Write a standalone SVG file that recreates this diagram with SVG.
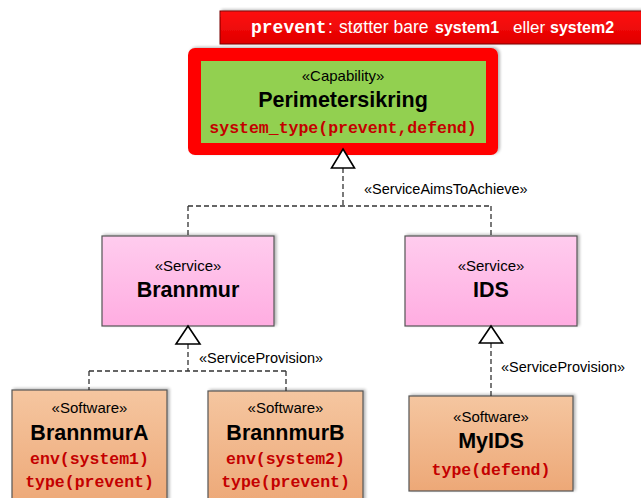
<svg xmlns="http://www.w3.org/2000/svg" width="641" height="498" viewBox="0 0 641 498">
  <defs>
    <linearGradient id="gBanner" x1="0" y1="0" x2="0" y2="1">
      <stop offset="0" stop-color="#FF1010"/>
      <stop offset="1" stop-color="#E00000"/>
    </linearGradient>
    <linearGradient id="gService" x1="0" y1="0" x2="0" y2="1">
      <stop offset="0" stop-color="#FFCCEE"/>
      <stop offset="1" stop-color="#FFADE1"/>
    </linearGradient>
    <linearGradient id="gSoftware" x1="0" y1="0" x2="0" y2="1">
      <stop offset="0" stop-color="#F5C6A0"/>
      <stop offset="1" stop-color="#EDA877"/>
    </linearGradient>
    <filter id="shadow" x="-10%" y="-10%" width="120%" height="130%">
      <feGaussianBlur in="SourceAlpha" stdDeviation="1.5"/>
      <feOffset dx="2" dy="-1" result="b"/>
      <feComponentTransfer><feFuncA type="linear" slope="0.3"/></feComponentTransfer>
      <feMerge><feMergeNode/><feMergeNode in="SourceGraphic"/></feMerge>
    </filter>
  </defs>
  <style>
    .box { stroke: #555555; stroke-width: 1.2; }
    .stereo { font-family: "Liberation Sans", Arial, sans-serif; font-size: 15px; fill: #000; text-anchor: middle; }
    .name { font-family: "Liberation Sans", Arial, sans-serif; font-size: 21.5px; font-weight: bold; fill: #000; text-anchor: middle; }
    .code { font-family: "Liberation Mono", "Courier New", monospace; font-size: 16.5px; font-weight: bold; fill: #C40000; text-anchor: middle; }
    .lbl { font-family: "Liberation Sans", Arial, sans-serif; font-size: 14.5px; fill: #000; }
    .dash { fill: none; stroke: #333333; stroke-width: 1.3; stroke-dasharray: 5 3; }
    .head { fill: #FFFFFF; stroke: #000000; stroke-width: 1.6; stroke-linejoin: miter; }
    .banner { font-family: "Liberation Sans", Arial, sans-serif; font-size: 17.5px; fill: #FFFFFF; }
    .banner .b { font-size: 16px; font-weight: bold; }
  </style>

  <!-- note banner -->
  <g id="note">
    <rect x="220" y="11" width="430" height="33" fill="url(#gBanner)" stroke="#7A0000" stroke-width="1" filter="url(#shadow)"/>
    <text class="banner" y="33">
      <tspan x="251" font-family="'Liberation Mono', 'Courier New', monospace" font-weight="bold" font-size="18px">prevent</tspan><tspan x="328">:</tspan><tspan x="339">støtter bare</tspan><tspan class="b" x="435">system1</tspan><tspan x="513" font-size="17px">eller</tspan><tspan class="b" x="550">system2</tspan>
    </text>
  </g>

  <!-- capability -->
  <g id="perimetersikring">
    <rect x="188" y="48" width="310" height="107" rx="7" fill="#FF0000" filter="url(#shadow)"/>
    <rect x="201" y="61" width="285" height="82" fill="#92D050"/>
    <text class="stereo" x="343" y="81">«Capability»</text>
    <text class="name" x="343" y="107">Perimetersikring</text>
    <text class="code" x="343" y="133">system_type(prevent,defend)</text>
  </g>

  <!-- services -->
  <g id="brannmur">
    <rect class="box" x="102" y="236" width="172" height="90" fill="url(#gService)" filter="url(#shadow)"/>
    <text class="stereo" x="188" y="271">«Service»</text>
    <text class="name" x="188" y="297">Brannmur</text>
  </g>
  <g id="ids">
    <rect class="box" x="405" y="236" width="172" height="90" fill="url(#gService)" filter="url(#shadow)"/>
    <text class="stereo" x="491" y="271">«Service»</text>
    <text class="name" x="491" y="297">IDS</text>
  </g>

  <!-- software -->
  <g id="brannmurA">
    <rect class="box" x="12" y="390" width="155" height="115" fill="url(#gSoftware)" filter="url(#shadow)"/>
    <text class="stereo" x="89.5" y="413">«Software»</text>
    <text class="name" x="89.5" y="440">BrannmurA</text>
    <text class="code" x="89.5" y="464">env(system1)</text>
    <text class="code" x="89.5" y="487">type(prevent)</text>
  </g>
  <g id="brannmurB">
    <rect class="box" x="208" y="391" width="155" height="115" fill="url(#gSoftware)" filter="url(#shadow)"/>
    <text class="stereo" x="285.5" y="413">«Software»</text>
    <text class="name" x="285.5" y="440">BrannmurB</text>
    <text class="code" x="285.5" y="464">env(system2)</text>
    <text class="code" x="285.5" y="487">type(prevent)</text>
  </g>
  <g id="myids">
    <rect class="box" x="409" y="396" width="164" height="95" fill="url(#gSoftware)" filter="url(#shadow)"/>
    <text class="stereo" x="491" y="422">«Software»</text>
    <text class="name" x="491" y="448">MyIDS</text>
    <text class="code" x="491" y="475">type(defend)</text>
  </g>

  <!-- connectors -->
  <g id="connectors">
    <path class="dash" d="M343,168 V206 M188,206 H491 M188,206 V236 M491,206 V236"/>
    <polygon class="head" points="343,149 354.5,168 331.5,168"/>
    <text class="lbl" x="364" y="194">«ServiceAimsToAchieve»</text>

    <path class="dash" d="M188,344 V371 M89,371 H286 M89,371 V390 M286,371 V391"/>
    <polygon class="head" points="188,326 200,344 176,344"/>
    <text class="lbl" x="199" y="363">«ServiceProvision»</text>

    <path class="dash" d="M491,343 V396"/>
    <polygon class="head" points="491,326 502.5,343 479.5,343"/>
    <text class="lbl" x="501" y="372">«ServiceProvision»</text>
  </g>
</svg>
